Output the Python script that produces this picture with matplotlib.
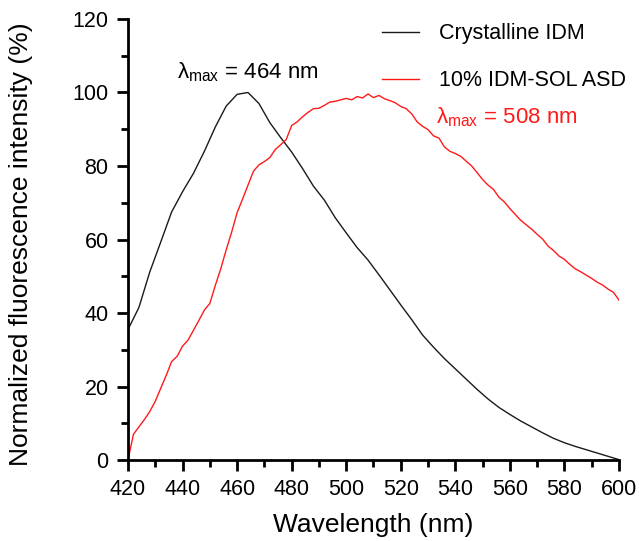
import numpy as np
import matplotlib
matplotlib.use("Agg")
import matplotlib.pyplot as plt
from matplotlib.ticker import MultipleLocator

plt.rcParams['font.family'] = ['Liberation Sans', 'DejaVu Sans']
plt.rcParams['mathtext.fontset'] = 'custom'
plt.rcParams['mathtext.rm'] = 'Liberation Sans'

# crystalline IDM emission, every 4 nm
wl_crystalline = np.arange(420, 601, 4)
crystalline = [35.5, 41.5, 51.2, 59.3, 67.5, 73.0, 78.0, 84.0, 90.6, 96.3,
               99.5, 100.0, 97.0, 91.8, 87.7, 83.8, 79.3, 74.5, 70.7, 65.9,
               61.8, 57.8, 54.4, 50.4, 46.3, 42.2, 38.2, 34.0, 30.7, 27.6,
               24.8, 22.0, 19.2, 16.6, 14.3, 12.4, 10.6, 9.0, 7.4, 5.9,
               4.7, 3.7, 2.8, 1.9, 1.0, 0.1]

# 10% IDM-SOL ASD emission, every 2 nm
wl_asd = np.arange(420, 601, 2)
asd = [0.0, 7.0, 9.0, 11.0, 13.2, 16.0, 19.5, 23.0, 26.8, 28.2,
       31.0, 32.6, 35.3, 38.0, 40.8, 42.6, 47.5, 52.0, 57.2, 62.0,
       67.3, 71.0, 74.8, 78.6, 80.3, 81.2, 82.3, 84.5, 85.8, 87.2,
       91.0, 92.0, 93.4, 94.6, 95.6, 95.7, 96.5, 97.4, 97.6, 98.0,
       98.4, 98.0, 98.9, 98.5, 99.6, 98.6, 99.2, 98.3, 97.8, 97.2,
       96.2, 95.6, 94.2, 92.0, 90.8, 89.9, 88.2, 87.6, 85.2, 84.0,
       83.4, 82.6, 81.3, 80.0, 78.2, 76.3, 74.8, 73.6, 71.5, 70.2,
       68.4, 66.8, 65.2, 64.0, 62.8, 61.4, 60.1, 58.2, 57.0, 55.5,
       54.6, 53.2, 52.0, 51.2, 50.3, 49.4, 48.4, 47.6, 46.5, 45.6,
       43.5]

labels = ['Crystalline IDM', '10% IDM-SOL ASD']
peaks = [464, 508]

fig = plt.figure(figsize=(6.39, 5.41), dpi=100)
ax = fig.add_axes([0.2003, 0.1497, 0.7684, 0.8152])

ax.plot(wl_crystalline, crystalline, color='#1a1a1a', lw=1.0, label=labels[0])
ax.plot(wl_asd, asd, color='#ff1a1a', lw=1.0, label=labels[1])

ax.set_xlim(420, 600)
ax.set_ylim(0, 120)
ax.xaxis.set_major_locator(MultipleLocator(20))
ax.xaxis.set_minor_locator(MultipleLocator(10))
ax.yaxis.set_major_locator(MultipleLocator(20))
ax.yaxis.set_minor_locator(MultipleLocator(10))

for s in ['top', 'right']:
    ax.spines[s].set_visible(False)
for s in ['left', 'bottom']:
    ax.spines[s].set_linewidth(2)
ax.tick_params(which='major', direction='out', length=8, width=2,
               labelsize=15.5, pad=6)
ax.tick_params(which='minor', direction='out', length=5, width=2)

ax.set_xlabel('Wavelength (nm)', fontsize=19)
ax.set_ylabel('Normalized fluorescence intensity (%)', fontsize=19)
ax.xaxis.set_label_coords(0.5, -0.12)
ax.yaxis.set_label_coords(-0.193, 0.49)

ax.legend(frameon=False, fontsize=15.5, handlelength=1.7, handletextpad=0.93,
          labelspacing=1.2, loc='upper left',
          bbox_to_anchor=(363 / 639, 1 - 4 / 541), bbox_transform=fig.transFigure)

ax.text(peaks[0], 105.6, r'λ$_{\mathregular{max}}$ = %d nm' % peaks[0],
        fontsize=16, color='black', ha='center', va='center')
ax.text(559, 93.3, r'λ$_{\mathregular{max}}$ = %d nm' % peaks[1],
        fontsize=16, color='#ff1a1a', ha='center', va='center')

fig.savefig('out.png', dpi=100)
